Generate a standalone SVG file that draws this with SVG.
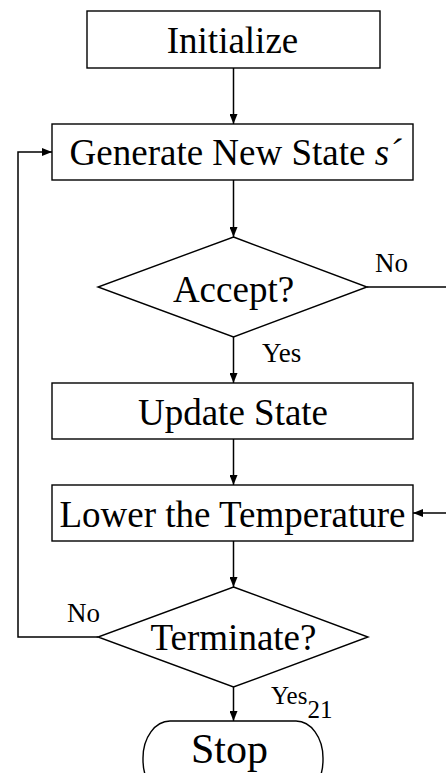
<svg xmlns="http://www.w3.org/2000/svg" width="446" height="773" viewBox="0 0 446 773">
<style>
.box{fill:#fff;stroke:#000;stroke-width:1.4}
.t{font-family:'Liberation Serif','Times New Roman',Times,serif;font-size:37px;fill:#000;text-anchor:middle}
.l{font-family:'Liberation Serif','Times New Roman',Times,serif;font-size:27px;fill:#000}
.c{fill:none;stroke:#000;stroke-width:1.5}
</style>
<defs>
<marker id="ah" markerUnits="userSpaceOnUse" markerWidth="10" markerHeight="8" refX="10" refY="4" orient="auto">
<path d="M0,0 L10,4 L0,8 z" fill="#000"/>
</marker>
</defs>
<rect width="446" height="773" fill="#fff"/>
<g id="connectors">
<line class="c" x1="233.5" y1="68" x2="233.5" y2="124" marker-end="url(#ah)"/>
<line class="c" x1="233.5" y1="180" x2="233.5" y2="237" marker-end="url(#ah)"/>
<line class="c" x1="233.5" y1="337" x2="233.5" y2="383" marker-end="url(#ah)"/>
<line class="c" x1="233.5" y1="439" x2="233.5" y2="485" marker-end="url(#ah)"/>
<line class="c" x1="233.5" y1="541" x2="233.5" y2="587" marker-end="url(#ah)"/>
<line class="c" x1="233.5" y1="687" x2="233.5" y2="721" marker-end="url(#ah)"/>
<line class="c" x1="367" y1="287" x2="446" y2="287"/>
<line class="c" x1="446" y1="513" x2="413" y2="513" marker-end="url(#ah)"/>
<polyline class="c" points="98,637 18,637 18,152 52,152" marker-end="url(#ah)"/>
<text class="l" x="375" y="272">No</text>
<text class="l" x="262" y="362">Yes</text>
<text class="l" x="67" y="622">No</text>
<text class="l" x="271" y="704" style="font-size:25px">Yes<tspan dy="14">21</tspan></text>
</g>
<g id="initialize">
<rect class="box" x="87" y="11" width="293" height="57"/>
<text class="t" x="232.5" y="53">Initialize</text>
</g>
<g id="generate">
<rect class="box" x="52" y="124" width="361" height="56"/>
<text class="t" x="235.5" y="165">Generate New State <tspan font-style="italic">s´</tspan></text>
</g>
<g id="accept">
<polygon class="box" points="233.5,237 367,287 233.5,337 98,287"/>
<text class="t" x="233.5" y="302">Accept?</text>
</g>
<g id="update">
<rect class="box" x="52" y="383" width="361" height="56"/>
<text class="t" x="233" y="425">Update State</text>
</g>
<g id="lower">
<rect class="box" x="52" y="485" width="361" height="56"/>
<text class="t" x="232.5" y="527">Lower the Temperature</text>
</g>
<g id="terminate">
<polygon class="box" points="233.5,587 368,637 233.5,687 98,637"/>
<text class="t" x="233.5" y="650">Terminate?</text>
</g>
<g id="stop">
<rect class="box" x="143" y="721" width="180" height="76" rx="27" ry="37"/>
<text class="t" x="229.5" y="763" style="font-size:42px">Stop</text>
</g>
</svg>
